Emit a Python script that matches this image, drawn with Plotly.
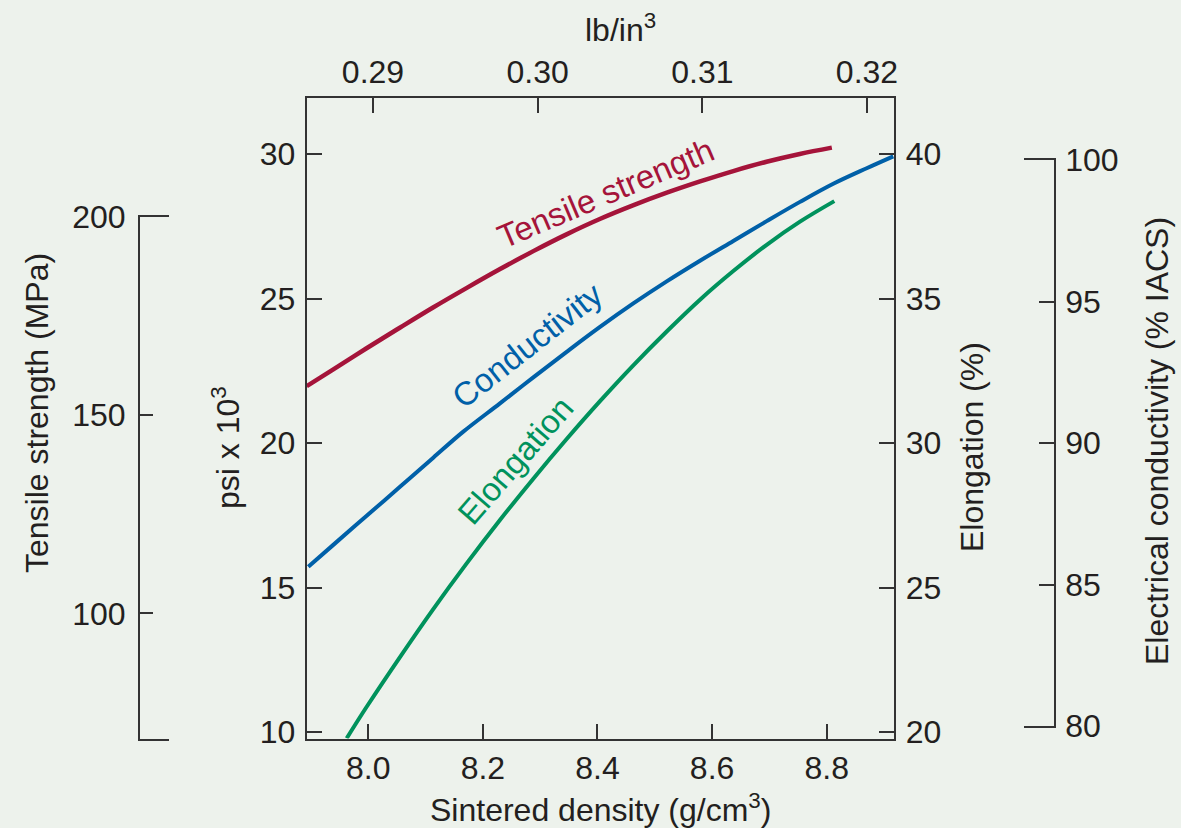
import plotly.graph_objects as go

# ---------------- data ----------------
density_ts = [7.8925, 7.939, 7.997, 8.055, 8.113, 8.172, 8.230, 8.288, 8.346,
              8.404, 8.463, 8.521, 8.579, 8.637, 8.695, 8.753, 8.809]
tensile_ksi = [21.97, 22.55, 23.28, 23.99, 24.69, 25.37, 26.02, 26.64, 27.22,
               27.75, 28.23, 28.66, 29.05, 29.41, 29.73, 30.00, 30.22]

density_cond = [7.8953, 7.9389, 7.9972, 8.0553, 8.1134, 8.1658, 8.2298, 8.2880,
                8.3462, 8.4044, 8.4625, 8.5208, 8.5789, 8.637, 8.6953, 8.7534,
                8.8115, 8.8698, 8.9162]
conductivity_iacs = [85.63, 86.40, 87.43, 88.45, 89.48, 90.40, 91.40, 92.32,
                     93.22, 94.10, 94.93, 95.71, 96.44, 97.14, 97.84, 98.52,
                     99.16, 99.71, 100.13]

density_el = [7.9623, 7.9972, 8.0553, 8.1134, 8.1717, 8.2298, 8.288, 8.3462,
              8.4044, 8.4625, 8.5208, 8.5789, 8.637, 8.6953, 8.7534, 8.8133]
elongation_pct = [19.79, 20.88, 22.60, 24.26, 25.84, 27.34, 28.77, 30.14,
                  31.45, 32.69, 33.86, 34.96, 35.95, 36.86, 37.66, 38.37]

density_ticks = [8.0, 8.2, 8.4, 8.6, 8.8]
lbin3_ticks = [0.29, 0.30, 0.31, 0.32]
psi_ticks = [10, 15, 20, 25, 30]
elong_ticks = [20, 25, 30, 35, 40]
mpa_ticks = [100, 150, 200]
iacs_ticks = [80, 85, 90, 95, 100]

# ---------------- styling ----------------
W, H = 1181, 828
FONT = "Liberation Sans, Arial, Helvetica, sans-serif"
TXT = "#231f20"
AX = "#333333"
BG = "#edf2ec"
RED, BLUE, GREEN = "#a5143a", "#0060a8", "#00925c"
FS = 32

MPA_RANGE = [68.31, 200]
IACS_RANGE = [80, 100]


def px(x):
    return x / W


def py(y):
    return 1 - y / H


xdom = [px(306.7), px(894.3)]
ydom = [py(738.5), py(97.7)]
mpa_dom = [py(739), py(216.7)]
iacs_dom = [py(726), py(160)]

common = dict(showgrid=False, zeroline=False, showline=True, linecolor=AX,
              linewidth=2, ticks="inside", ticklen=15, tickwidth=2,
              tickcolor=AX, tickfont=dict(family=FONT, size=FS, color=TXT),
              automargin=False)
# narrow x-axes whose mirrored lines form the end caps of the side scales
cap_x = dict(range=[0, 1], showgrid=False, zeroline=False, showline=True,
             mirror=True, linecolor=AX, linewidth=2, ticks="",
             showticklabels=False, automargin=False)

fig = go.Figure()

fig.add_trace(go.Scatter(x=density_ts, y=tensile_ksi, mode="lines",
                         line=dict(color=RED, width=4.5, shape="spline"),
                         xaxis="x", yaxis="y",
                         hoverinfo="skip", showlegend=False))
fig.add_trace(go.Scatter(x=density_el, y=elongation_pct, mode="lines",
                         line=dict(color=GREEN, width=4, shape="spline"),
                         xaxis="x", yaxis="y2",
                         hoverinfo="skip", showlegend=False))
fig.add_trace(go.Scatter(x=density_cond, y=conductivity_iacs, mode="lines",
                         line=dict(color=BLUE, width=4, shape="spline"),
                         xaxis="x", yaxis="y5",
                         hoverinfo="skip", showlegend=False))
# invisible anchors so that the auxiliary axes get drawn
for xa, ya, yv in [("x2", "y", psi_ticks[0]),
                   ("x3", "y3", mpa_ticks[0]),
                   ("x4", "y4", iacs_ticks[0])]:
    xv = lbin3_ticks[0] if xa == "x2" else 0.5
    fig.add_trace(go.Scatter(x=[xv], y=[yv], mode="markers",
                             marker=dict(opacity=0), xaxis=xa, yaxis=ya,
                             hoverinfo="skip", showlegend=False))

fig.update_layout(
    width=W, height=H, autosize=False, template="none",
    margin=dict(l=0, r=0, t=0, b=0, pad=0),
    paper_bgcolor=BG, plot_bgcolor="rgba(0,0,0,0)",
    font=dict(family=FONT, size=FS, color=TXT),
    showlegend=False,
    xaxis=dict(common, domain=xdom, range=[7.8925, 8.918], anchor="y",
               side="bottom", tickvals=density_ticks, tickformat=".1f",
               ticklabelstandoff=0),
    xaxis2=dict(common, overlaying="x", range=[0.285975, 0.321658], anchor="y",
                side="top", tickvals=lbin3_ticks, tickformat=".2f",
                ticklabelstandoff=0),
    yaxis=dict(common, domain=ydom, range=[9.782, 31.947], anchor="x",
               side="left", tickvals=psi_ticks, ticklabelstandoff=3),
    yaxis2=dict(common, overlaying="y", range=[19.782, 41.947], anchor="x",
                side="right", tickvals=elong_ticks, ticklabelstandoff=3),
    yaxis5=dict(overlaying="y", range=[79.558, 102.201], visible=False,
                showgrid=False, zeroline=False),
    # tensile strength (MPa) scale
    xaxis3=dict(cap_x, domain=[px(140), px(169)], anchor="y3"),
    yaxis3=dict(common, domain=mpa_dom, range=MPA_RANGE, anchor="x3",
                side="left", tickvals=mpa_ticks, ticklen=13,
                ticklabelstandoff=6),
    # electrical conductivity (% IACS) scale
    xaxis4=dict(cap_x, domain=[px(1024), px(1053.8)], anchor="y4"),
    yaxis4=dict(common, domain=iacs_dom, range=IACS_RANGE, anchor="x4",
                side="right", tickvals=iacs_ticks, ticklabelstandoff=3),
)

ann = [
    dict(text="lb/in<sup>3</sup>", x=px(620), y=py(28)),
    dict(text="Sintered density (g/cm<sup>3</sup>)", x=px(600), y=py(808)),
    dict(text="psi x 10<sup>3</sup>", x=px(226), y=py(448), textangle=-90),
    dict(text="Tensile strength (MPa)", x=px(37), y=py(413), textangle=-90),
    dict(text="Elongation (%)", x=px(972), y=py(447), textangle=-90),
    dict(text="Electrical conductivity (% IACS)", x=px(1157), y=py(441),
         textangle=-90),
    dict(text="Tensile strength", x=px(605), y=py(193), textangle=-23,
         font=dict(family=FONT, size=33, color=RED)),
    dict(text="Conductivity", x=px(527), y=py(345), textangle=-38,
         font=dict(family=FONT, size=33, color=BLUE)),
    dict(text="Elongation", x=px(515), y=py(460), textangle=-49,
         font=dict(family=FONT, size=33, color=GREEN)),
]
for a in ann:
    a.setdefault("font", dict(family=FONT, size=FS, color=TXT))
    fig.add_annotation(xref="paper", yref="paper", showarrow=False,
                       xanchor="center", yanchor="middle", **a)

fig.write_html("out.html",
               config={"displayModeBar": False},
               post_script="document.body.style.margin='0';"
                           "document.body.style.background='" + BG + "';")
